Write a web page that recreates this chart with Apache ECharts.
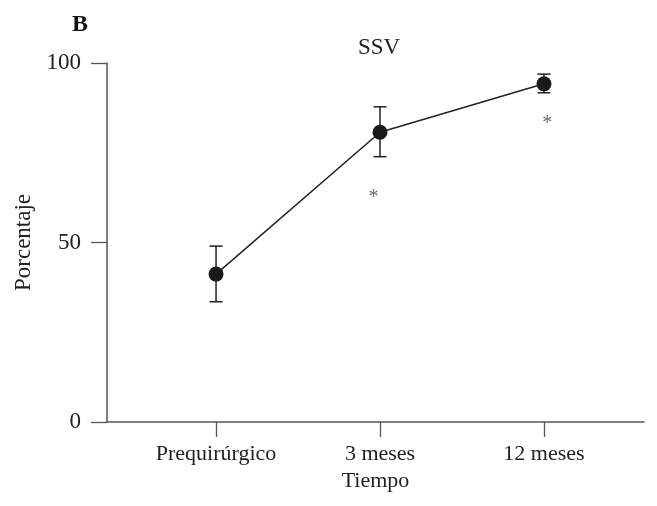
<!DOCTYPE html>
<html>
<head>
<meta charset="utf-8">
<script src="https://cdn.jsdelivr.net/npm/echarts@6/dist/echarts.min.js"></script>
<style>html,body{margin:0;padding:0;background:#fff}#c{width:657px;height:506px}</style>
</head>
<body>
<div id="c"></div>
<script>
const categories = ['Prequirúrgico', '3 meses', '12 meses'];
const means = [41.2, 80.7, 94.2];
const upper = [49.0, 87.8, 96.9];
const lower = [33.5, 73.9, 91.7];
const starPoints = [[0.96, 63.5], [2.02, 84.1]];
const yTicks = [0, 50, 100];

const FONT = '"Liberation Serif", "Times New Roman", serif';
const chart = echarts.init(document.getElementById('c'), null, {renderer: 'canvas'});
const catIdx = categories.map((c, i) => i);

chart.setOption({
  animation: false,
  backgroundColor: '#fff',
  title: [
    {text: 'SSV', left: 374, top: 31, textAlign: 'center',
     textStyle: {fontFamily: FONT, fontWeight: 'normal', fontSize: 23, color: '#222'}},
    {text: 'B', left: 67, top: 8,
     textStyle: {fontFamily: FONT, fontWeight: 'bold', fontSize: 24, color: '#111'}}
  ],
  grid: {left: 107, right: 13, top: 63, bottom: 84, containLabel: false},
  xAxis: {
    type: 'value', min: -0.665, max: 2.61,
    name: 'Tiempo', nameLocation: 'middle', nameGap: 48,
    nameTextStyle: {fontFamily: FONT, fontSize: 22, color: '#222'},
    splitLine: {show: false},
    axisLine: {show: true, onZero: false, lineStyle: {color: '#555', width: 1.5}},
    axisTick: {show: true, customValues: catIdx, length: 15, inside: false, lineStyle: {color: '#555', width: 1.3}},
    axisLabel: {customValues: catIdx, margin: 21, fontFamily: FONT, fontSize: 22, color: '#222',
      formatter: v => categories[Math.round(v)] || ''}
  },
  yAxis: {
    type: 'value', min: 0, max: 100, interval: 50,
    name: 'Porcentaje', nameLocation: 'middle', nameGap: 72, nameRotate: 90,
    nameTextStyle: {fontFamily: FONT, fontSize: 23, color: '#222'},
    splitLine: {show: false},
    axisLine: {show: true, onZero: false, lineStyle: {color: '#555', width: 1.5}},
    axisTick: {show: true, customValues: yTicks, length: 16, inside: false, lineStyle: {color: '#555', width: 1.3}},
    axisLabel: {customValues: yTicks, margin: 26, fontFamily: FONT, fontSize: 23, color: '#222'}
  },
  series: [
    {
      type: 'line',
      data: means.map((m, i) => [i, m]),
      symbol: 'circle', symbolSize: 15,
      lineStyle: {color: '#222', width: 1.5},
      itemStyle: {color: '#1a1a1a'},
      z: 3
    },
    {
      type: 'custom',
      data: catIdx.map(i => [i, lower[i], upper[i]]),
      renderItem: function (params, api) {
        const x = api.value(0);
        const lo = api.coord([x, api.value(1)]);
        const hi = api.coord([x, api.value(2)]);
        const hw = 6.5;
        const st = {stroke: '#222', lineWidth: 1.5};
        return {type: 'group', children: [
          {type: 'line', shape: {x1: lo[0], y1: lo[1], x2: hi[0], y2: hi[1]}, style: st},
          {type: 'line', shape: {x1: lo[0]-hw, y1: lo[1], x2: lo[0]+hw, y2: lo[1]}, style: st},
          {type: 'line', shape: {x1: hi[0]-hw, y1: hi[1], x2: hi[0]+hw, y2: hi[1]}, style: st}
        ]};
      },
      z: 2
    },
    {
      type: 'scatter',
      data: starPoints,
      symbolSize: 0,
      label: {show: true, formatter: '*', position: 'inside', fontFamily: FONT, fontSize: 20, color: '#444', offset: [0, 4]},
      silent: true
    }
  ]
});
</script>
</body>
</html>
